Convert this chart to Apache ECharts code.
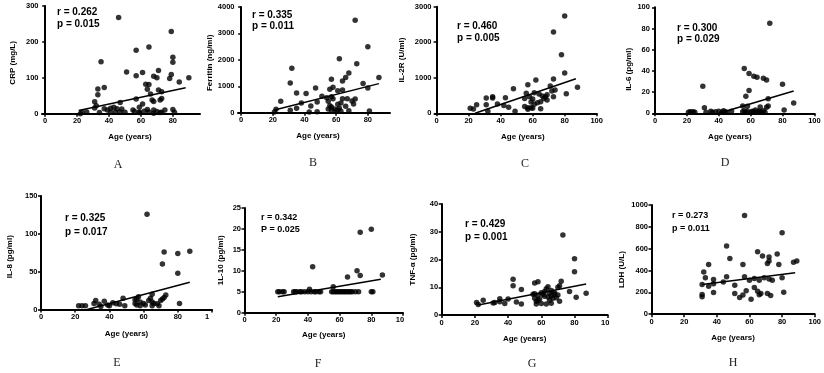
<!DOCTYPE html>
<html>
<head>
<meta charset="utf-8">
<script src="https://cdn.jsdelivr.net/npm/echarts@6/dist/echarts.min.js"></script>
<style>
  html, body { margin: 0; padding: 0; background: #fff; }
  #chart { width: 824px; height: 373px; }
</style>
</head>
<body>
<div id="chart"></div>
<script>
// values, [age, value]
const pointsA = [[46,268],[79,229],[57,177],[65,186],[35,145],[80,157],[80,143],[51,116],[61,115],[71,120],[57,106],[68,104],[70,100],[79,109],[78,98],[84,88],[90,100],[33,69],[37,73],[33,53],[63,82],[65,81],[64,68],[71,66],[73,61],[66,55],[57,41],[73,42],[72,38],[67,38],[68,34],[31,33],[32,22],[47,31],[61,27],[59,18],[31,16],[37,14],[39,10],[41,15],[43,18],[45,14],[48,13],[44,5],[47,5],[50,4],[55,10],[56,6],[59,4],[62,7],[64,12],[65,5],[68,10],[70,6],[73,4],[75,10],[80,12],[81,4],[23,4],[22,0],[26,5],[34,3],[41,4],[59,3],[68,1],[72,3]]
const pointsB = [[72,3494],[80,2494],[62,2038],[73,1848],[32,1684],[68,1506],[66,1329],[87,1329],[57,1266],[31,1127],[77,1101],[64,1203],[47,937],[58,962],[56,886],[61,835],[64,861],[80,937],[35,747],[41,722],[51,620],[54,570],[57,608],[58,532],[64,532],[67,532],[25,430],[38,367],[55,430],[63,367],[70,443],[72,519],[71,329],[44,253],[48,405],[56,266],[57,215],[61,316],[62,165],[66,240],[68,76],[35,165],[31,89],[22,127],[21,25],[48,38],[43,25],[55,139],[59,139],[60,51],[57,101],[61,101],[81,63],[63,51]]
const pointsC = [[80,2738],[73,2288],[78,1650],[80,1134],[73,966],[62,938],[48,694],[57,806],[71,769],[88,731],[74,656],[72,628],[56,563],[61,581],[64,544],[66,488],[68,469],[69,525],[73,469],[81,553],[58,469],[60,403],[55,413],[59,319],[61,253],[63,300],[65,328],[67,413],[69,375],[35,469],[35,431],[31,431],[43,441],[31,244],[38,263],[42,216],[45,169],[21,141],[23,122],[25,244],[32,56],[49,56],[55,188],[57,159],[59,159],[60,141],[57,113],[65,131]]
const pointsD = [[72,85],[56,42.3],[59,37.5],[62,35],[64,34],[68,33],[70,31.5],[80,27.4],[59,21.4],[57,16],[71,13.8],[81,3],[87,9.7],[70,5.7],[71,6.9],[66,6],[55,6.9],[58,6.6],[31,5.3],[30,25.5],[21,1],[22,1.5],[23,1],[24,1.5],[25,1],[32,1],[35,2],[36,1],[38,1.5],[40,2],[42,1],[43,2.5],[44,1.5],[45,1],[48,2],[55,1.5],[56,2.5],[57,1],[58,2],[60,1],[61,2],[62,1.5],[63,3],[64,1],[65,2],[66,1.5],[67,1],[68,2.5],[69,1]]
const pointsE = [[62,126],[72,76],[80,74],[87,77],[71,60],[80,48],[81,8],[73,19],[72,16],[71,14],[70,12],[65,20],[57,17],[56,14],[48,15],[37,11],[32,12],[31,8],[34,7],[42,9],[44,7.5],[46,7],[39,6],[40,5],[22,5],[24,5],[26,5],[35,4],[49,5],[55,13],[55,8],[58,10],[60,8],[61,6],[58,5],[64,15],[63,12],[65,10],[66,8],[68,7.5],[69,5],[65,5],[56,6]]
const pointsF = [[73,19.2],[80,19.9],[43,11],[71,10],[73,8.9],[65,8.5],[87,9],[56,6.2],[41,5.6],[21,5],[22,5],[24,5],[25,5],[31,5],[32,5],[33,5],[35,5],[36,5],[38,5],[40,5],[42,5],[44,5],[45,5],[47,5],[48,5],[55,5],[56,5],[57,5],[58,5],[59,5],[60,5],[61,5],[62,5],[63,5],[64,5],[65,5],[66,5],[67,5],[68,5],[70,5],[72,5],[80,5],[81,5]]
const pointsG = [[73,28.8],[80,20.3],[80,15.6],[43,12.9],[43,10.5],[48,9.2],[56,11.5],[58,12],[72,12.2],[71,10.5],[70,10],[64,10.2],[63,9.5],[62,8.5],[77,8.5],[87,7.8],[81,6.4],[71,5],[21,4.5],[22,3.8],[25,5.3],[31,4.3],[32,4.5],[35,5.9],[35,4.8],[38,4.1],[40,5.8],[45,4.7],[48,4],[55,7.5],[56,6],[57,5],[57,4],[58,7],[59,5.8],[60,4.1],[61,7.4],[62,6.8],[63,4],[64,6.5],[65,7.8],[65,5.3],[66,6.9],[66,4.2],[67,6],[68,7.5],[69,6.2],[70,7.2],[66,8.8],[68,8],[60,8],[56,7.7],[58,5.2]]
const pointsH = [[57,903],[80,747],[46,625],[48,511],[65,573],[77,551],[68,533],[72,524],[72,487],[71,465],[78,456],[56,456],[35,456],[87,475],[89,487],[32,386],[33,334],[31,273],[38,318],[38,279],[35,257],[46,343],[51,266],[57,343],[60,312],[63,328],[66,312],[69,334],[72,322],[74,312],[80,334],[38,199],[31,181],[31,159],[51,190],[56,175],[54,153],[58,214],[61,138],[63,245],[65,211],[66,178],[67,190],[71,190],[73,171],[81,202],[44,294]]

// regression line end points
const fitA = [[21,9],[88,72]]
const fitB = [[21,100],[87,1100]]
const fitC = [[24,0],[87,970]]
const fitD = [[40,0],[87,21]]
const fitE = [[27,0],[87,36]]
const fitF = [[21,3.8],[86,8]]
const fitG = [[22,3.6],[87,11.2]]
const fitH = [[31,272],[88,380]]

const yNames = ['CRP (mg/L)', 'Ferritin (ng/ml)', 'IL-2R (U/ml)', 'IL-6 (pg/ml)', 'IL-8 (pg/ml)', '1L-10 (pg/ml)', 'TNF-α (pg/ml)', 'LDH (U/L)']
const rTexts = ['r = 0.262', 'r = 0.335', 'r = 0.460', 'r = 0.300', 'r = 0.325', 'r = 0.342', 'r = 0.429', 'r = 0.273']
const pTexts = ['p = 0.015', 'p = 0.011', 'p = 0.005', 'p = 0.029', 'p = 0.017', 'P = 0.025', 'p = 0.001', 'p = 0.011']
const letters = ['A', 'B', 'C', 'D', 'E', 'F', 'G', 'H']
const yMax = [300, 4000, 3000, 100, 150, 25, 40, 1000]
const yStep = [100, 1000, 1000, 20, 50, 5, 10, 200]
const xTicks = [0, 20, 40, 60, 80, 100]

const points = [pointsA, pointsB, pointsC, pointsD, pointsE, pointsF, pointsG, pointsH]
const fits = [fitA, fitB, fitC, fitD, fitE, fitF, fitG, fitH]

// panel geometry (px)
const panels = [
  { grid: [42, 6, 158, 107.7], xMin: -2, xMax: 97, maxLabel: null, yGap: 25, yPad: [0, 6, 0, 0], xGap: 19, xPad: [0, 0, 0, 18], stat: [57, 12.5, 24.5, 10], letter: [118, 165] },
  { grid: [238, 7, 152, 105.7], xMin: -2, xMax: 94, maxLabel: null, yGap: 24, yPad: [0, 6, 0, 0], xGap: 19, xPad: [0, 0, 0, 8], stat: [252, 15, 26, 10], letter: [313, 162.5] },
  { grid: [435, 6.7, 161.7, 106.6], xMin: -1, xMax: 100, maxLabel: '100', yGap: 29, yPad: [0, 0, 0, 0], xGap: 19, xPad: [0, 0, 0, 14], stat: [457, 26.7, 38, 10], letter: [525, 164] },
  { grid: [653.4, 7.3, 161, 106], xMin: -1, xMax: 100, maxLabel: '100', yGap: 21, yPad: [0, 18, 0, 0], xGap: 19, xPad: [0, 8, 0, 0], stat: [677, 28.3, 39.5, 10], letter: [725, 162.7] },
  { grid: [41, 196, 171, 113.5], xMin: 0, xMax: 100, maxLabel: '{c|1}', cut: 10, yGap: 27, yPad: [0, 8, 0, 0], xGap: 20, xPad: [0, 0, 0, 0], stat: [65, 218.3, 232.3, 10], letter: [117, 363.3] },
  { grid: [244.5, 208, 158.5, 104.7], xMin: 0, xMax: 100, maxLabel: '{c|10}', cut: 6, yGap: 20, yPad: [0, 0, 0, 0], xGap: 18, xPad: [0, 0, 0, 0], stat: [261, 217.7, 230, 9], letter: [318, 364] },
  { grid: [441.7, 204, 166, 111], xMin: 0, xMax: 100, maxLabel: '{c|10}', cut: 5, yGap: 25, yPad: [0, 0, 0, 0], xGap: 20, xPad: [0, 0, 0, 0], stat: [465, 224.3, 237.3, 10], letter: [532, 364] },
  { grid: [651.5, 205, 163.5, 109.2], xMin: 0, xMax: 100, maxLabel: '100', yGap: 25.5, yPad: [0, 20, 0, 0], xGap: 19.5, xPad: [0, 0, 0, 0], stat: [672, 216, 228.3, 9], letter: [733, 362.7] }
]

const font = 'Liberation Sans, Arial, sans-serif'
const axisLine = { lineStyle: { color: '#000', width: 2 } }
const axisTick = { length: 3, lineStyle: { color: '#000', width: 1.5 } }

const chart = echarts.init(document.getElementById('chart'), null, { renderer: 'canvas' })

const grid = panels.map((p) => ({ left: p.grid[0], top: p.grid[1], width: p.grid[2], height: p.grid[3] }))

const xAxis = panels.map((p, i) => ({
  type: 'value',
  gridIndex: i,
  min: p.xMin,
  max: p.xMax,
  name: 'Age (years)',
  nameLocation: 'middle',
  nameGap: p.xGap,
  nameTextStyle: { fontFamily: font, fontWeight: 'bold', fontSize: 8, color: '#000', padding: p.xPad },
  axisLine: axisLine,
  axisTick: { ...axisTick, customValues: p.maxLabel ? xTicks : xTicks.slice(0, 5) },
  axisLabel: {
    customValues: p.maxLabel ? xTicks : xTicks.slice(0, 5),
    margin: 3.5,
    fontFamily: font,
    fontWeight: 'bold',
    fontSize: 7.5,
    color: '#000',
    formatter: (v) => (v === 100 ? p.maxLabel : String(v)),
    rich: { c: { fontFamily: font, fontWeight: 'bold', fontSize: 7.5, color: '#000', padding: [0, p.cut || 0, 0, 0] } }
  },
  splitLine: { show: false }
}))

const yAxis = panels.map((p, i) => ({
  type: 'value',
  gridIndex: i,
  min: 0,
  max: yMax[i],
  interval: yStep[i],
  name: yNames[i],
  nameLocation: 'middle',
  nameGap: p.yGap,
  nameTextStyle: { fontFamily: font, fontWeight: 'bold', fontSize: 8, color: '#000', padding: p.yPad },
  axisLine: axisLine,
  axisTick: axisTick,
  axisLabel: { margin: 3.5, fontFamily: font, fontWeight: 'bold', fontSize: 7.5, color: '#000', formatter: (v) => String(v) },
  splitLine: { show: false }
}))

const series = []
points.forEach((pts, i) => {
  series.push({
    type: 'scatter',
    xAxisIndex: i,
    yAxisIndex: i,
    data: pts,
    symbolSize: 5.5,
    itemStyle: { color: '#000' },
    silent: true
  })
  series.push({
    type: 'line',
    xAxisIndex: i,
    yAxisIndex: i,
    data: fits[i],
    showSymbol: false,
    lineStyle: { color: '#000', width: 1.5 },
    z: 3,
    silent: true
  })
})

const graphic = []
panels.forEach((p, i) => {
  const statStyle = { fontFamily: font, fontWeight: 'bold', fontSize: p.stat[3], fill: '#000', verticalAlign: 'middle' }
  graphic.push({ type: 'text', left: p.stat[0], top: p.stat[1] - p.stat[3] / 2, style: { ...statStyle, text: rTexts[i] } })
  graphic.push({ type: 'text', left: p.stat[0], top: p.stat[2] - p.stat[3] / 2, style: { ...statStyle, text: pTexts[i] } })
  graphic.push({
    type: 'text',
    x: p.letter[0],
    y: p.letter[1],
    style: { text: letters[i], fontFamily: 'Liberation Serif, Times New Roman, serif', fontSize: 12, fill: '#222', align: 'center', verticalAlign: 'middle' }
  })
})

chart.setOption({
  backgroundColor: '#fff',
  animation: false,
  grid,
  xAxis,
  yAxis,
  series,
  graphic
})
</script>
</body>
</html>
